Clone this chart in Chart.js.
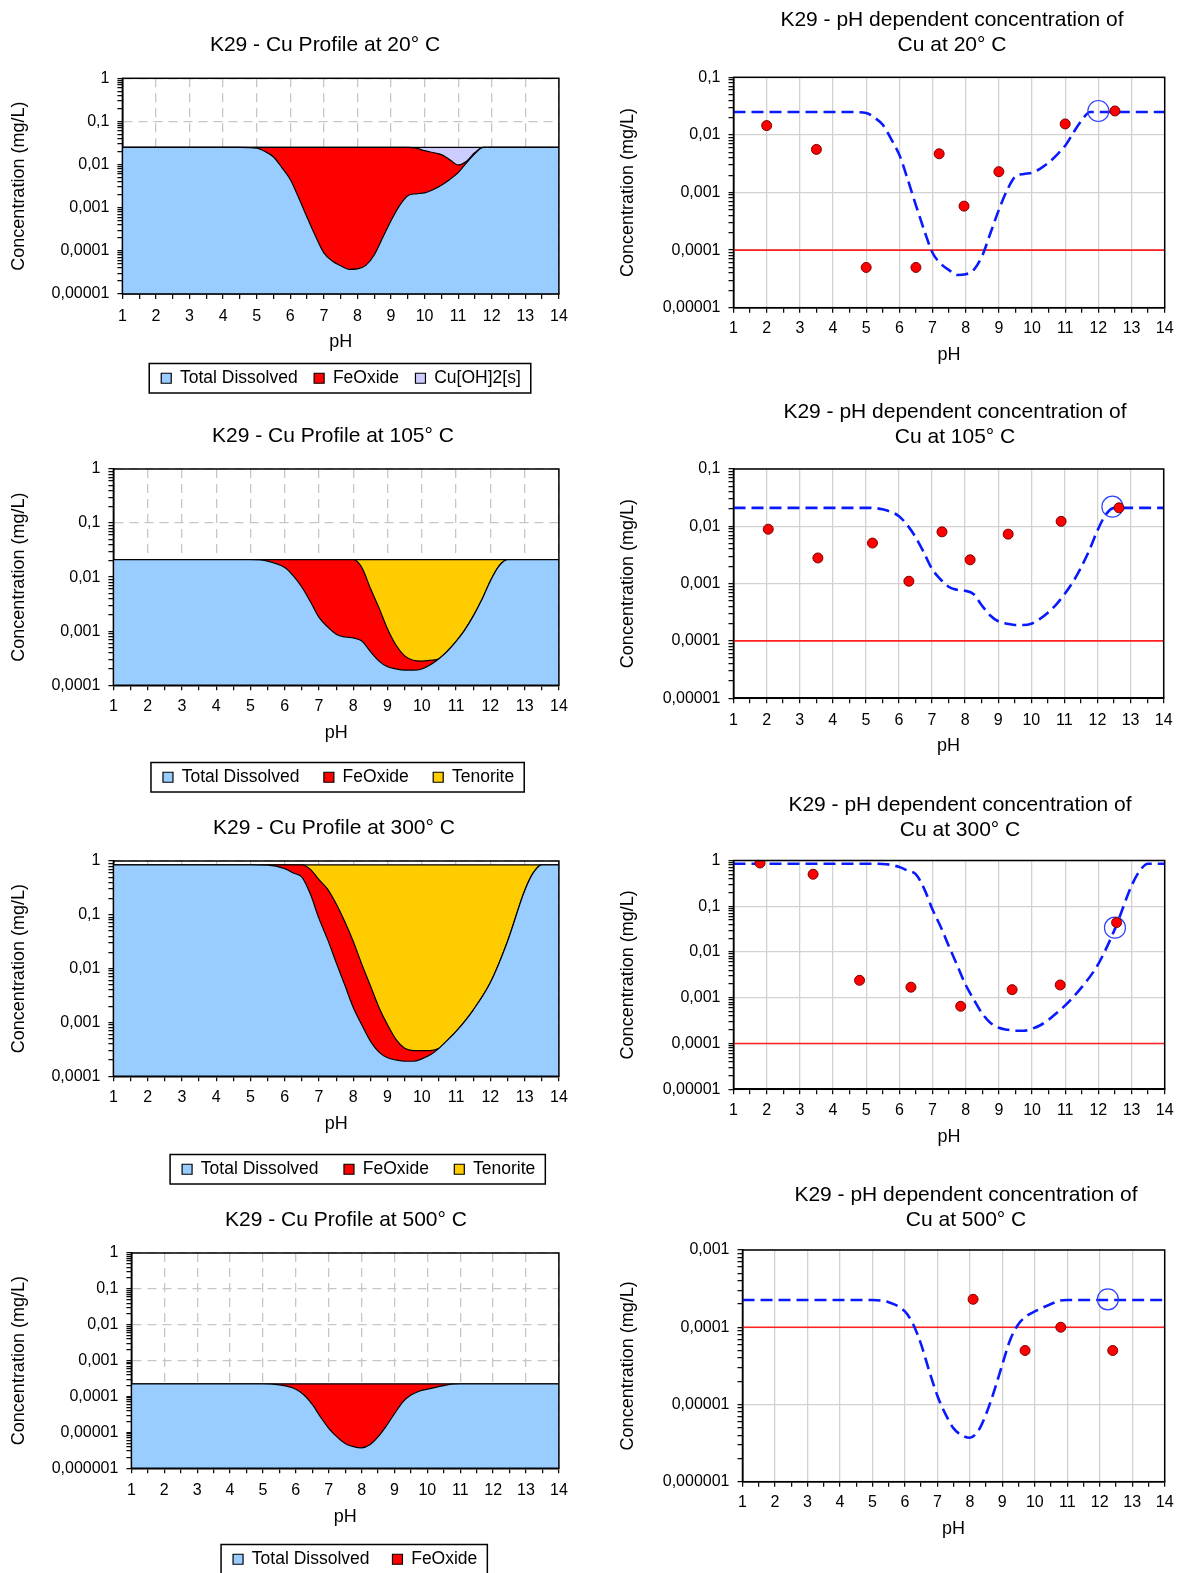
<!DOCTYPE html>
<html>
<head>
<meta charset="utf-8">
<title>K29 - Cu profiles</title>
<script src="https://cdn.jsdelivr.net/npm/chart.js@4.4.1/dist/chart.umd.min.js"></script>
<style>
  html, body { margin: 0; padding: 0; background: #fff; }
  body { position: relative; width: 1180px; height: 1573px; overflow: hidden; }
  canvas { position: absolute; }
</style>
</head>
<body>
<canvas id="p20"></canvas>
<canvas id="p105"></canvas>
<canvas id="p300"></canvas>
<canvas id="p500"></canvas>
<canvas id="c20"></canvas>
<canvas id="c105"></canvas>
<canvas id="c300"></canvas>
<canvas id="c500"></canvas>
<script>
// ---- data ----
const phTicks = [1, 1.5, 2, 2.5, 3, 3.5, 4, 4.5, 5, 5.5, 6, 6.5, 7, 7.5, 8, 8.5, 9, 9.5, 10, 10.5, 11, 11.5, 12, 12.5, 13, 13.5, 14];
const limit = 0.0001;

// 20 C
const ph20 = [1, 2, 3, 4, 4.5, 5, 5.25, 5.5, 5.75, 6, 6.25, 6.5, 6.75, 7, 7.25, 7.5, 7.75, 8, 8.25, 8.5, 8.75, 9, 9.25, 9.5, 9.75, 10, 10.25, 10.5, 10.75, 11, 11.25, 11.5, 11.75, 12, 13, 14];
const dissolved20 = [0.025, 0.025, 0.025, 0.025, 0.025, 0.024, 0.02, 0.015, 0.0085, 0.0045, 0.0017, 0.0006, 0.00022, 0.00009, 0.000058, 0.000045, 0.000037, 0.000038, 0.000046, 0.00008, 0.0002, 0.0005, 0.0011, 0.0019, 0.0021, 0.0022, 0.0026, 0.0033, 0.0045, 0.0065, 0.011, 0.018, 0.025, 0.025, 0.025, 0.025];
const feOxide20 = [0.025, 0.025, 0.025, 0.025, 0.025, 0.025, 0.025, 0.025, 0.025, 0.025, 0.025, 0.025, 0.025, 0.025, 0.025, 0.025, 0.025, 0.025, 0.025, 0.025, 0.025, 0.025, 0.025, 0.025, 0.024, 0.021, 0.019, 0.017, 0.013, 0.0098, 0.012, 0.019, 0.025, 0.025, 0.025, 0.025];
const total20 = 0.025;
const measPh20 = [2, 3.5, 5, 6.5, 7.2, 7.95, 9, 11, 12.5];
const measC20 = [0.0145, 0.0056, 0.00005, 0.00005, 0.0047, 0.00058, 0.0023, 0.0155, 0.026];
const mark20 = [12, 0.026];

// 105 C
const ph105 = [1, 2, 3, 4, 5, 5.5, 6, 6.25, 6.5, 6.75, 7, 7.25, 7.5, 7.75, 8, 8.25, 8.5, 8.75, 9, 9.25, 9.5, 9.75, 10, 10.25, 10.5, 10.75, 11, 11.25, 11.5, 11.75, 12, 12.25, 12.5, 13, 14];
const dissolved105 = [0.021, 0.021, 0.021, 0.021, 0.021, 0.0198, 0.015, 0.0105, 0.0065, 0.0035, 0.0018, 0.0012, 0.00088, 0.00078, 0.00075, 0.00066, 0.00042, 0.00028, 0.00022, 0.0002, 0.00019, 0.00019, 0.0002, 0.00024, 0.00031, 0.00043, 0.00065, 0.00105, 0.0019, 0.0038, 0.0085, 0.016, 0.021, 0.021, 0.021];
const feOxide105 = [0.021, 0.021, 0.021, 0.021, 0.021, 0.021, 0.021, 0.021, 0.021, 0.021, 0.021, 0.021, 0.021, 0.021, 0.021, 0.015, 0.0062, 0.0027, 0.0011, 0.00055, 0.00035, 0.00029, 0.00028, 0.00029, 0.00031, 0.00043, 0.00065, 0.00105, 0.0019, 0.0038, 0.0085, 0.016, 0.021, 0.021, 0.021];
const total105 = 0.021;
const measPh105 = [2.05, 3.55, 5.2, 6.3, 7.3, 8.15, 9.3, 10.9, 12.65];
const measC105 = [0.0089, 0.0028, 0.0051, 0.0011, 0.008, 0.0026, 0.0073, 0.0122, 0.021];
const mark105 = [12.45, 0.022];

// 300 C
const ph300 = [1, 2, 3, 4, 5, 5.5, 6, 6.25, 6.5, 6.75, 7, 7.25, 7.5, 7.75, 8, 8.25, 8.5, 8.75, 9, 9.25, 9.5, 9.75, 10, 10.25, 10.5, 10.75, 11, 11.5, 12, 12.5, 13, 13.25, 13.5, 14];
const dissolved300 = [0.85, 0.85, 0.85, 0.85, 0.85, 0.84, 0.72, 0.6, 0.5, 0.24, 0.085, 0.035, 0.013, 0.005, 0.0019, 0.0009, 0.00045, 0.00028, 0.00022, 0.0002, 0.00019, 0.00019, 0.00021, 0.00025, 0.00033, 0.00047, 0.00068, 0.0017, 0.0055, 0.032, 0.28, 0.6, 0.85, 0.85];
const feOxide300 = [0.85, 0.85, 0.85, 0.85, 0.85, 0.85, 0.85, 0.85, 0.85, 0.7, 0.45, 0.3, 0.16, 0.075, 0.032, 0.012, 0.0048, 0.0019, 0.0009, 0.00048, 0.00033, 0.0003, 0.0003, 0.0003, 0.00033, 0.00047, 0.00068, 0.0017, 0.0055, 0.032, 0.28, 0.6, 0.85, 0.85];
const total300 = 0.85;
const measPh300 = [1.8, 3.4, 4.8, 6.35, 7.85, 9.4, 10.85, 12.55];
const measC300 = [0.88, 0.5, 0.0024, 0.0017, 0.00065, 0.0015, 0.0019, 0.044];
const mark300 = [12.5, 0.034];

// 500 C
const ph500 = [1, 2, 3, 4, 5, 5.5, 6, 6.25, 6.5, 6.75, 7, 7.25, 7.5, 7.75, 8, 8.25, 8.5, 8.75, 9, 9.25, 9.5, 9.75, 10, 10.25, 10.5, 10.75, 11, 12, 13, 14];
const dissolved500 = [0.000225, 0.000225, 0.000225, 0.000225, 0.000225, 0.00021, 0.00016, 0.00011, 0.00006, 0.000027, 0.000013, 0.0000075, 0.0000049, 0.000004, 0.0000037, 0.0000045, 0.0000075, 0.000015, 0.000033, 0.00007, 0.00011, 0.00014, 0.00016, 0.00018, 0.0002, 0.00022, 0.000225, 0.000225, 0.000225, 0.000225];
const total500 = 0.000225;
const measPh500 = [8.1, 9.7, 10.8, 12.4];
const measC500 = [0.00023, 0.00005, 0.0001, 0.00005];
const mark500 = [12.25, 0.00023];

// ---- page geometry (absolute px in the 1180 x 1573 page) ----
const GEO = {
  p20:  { x0: 0, y0: 0,    w: 590, L: 122.4, R: 558.9, T: 78.3, B: 293.7, titleY: 45,    titleX: 325, xlY: 316,    phY: 342,  legY: 378,    legX: 341,   yTitleX: 19 },
  p105: { x0: 0, y0: 398,  w: 590, L: 113.4, R: 558.9, T: 469,  B: 685,   titleY: 436.5, titleX: 333, xlY: 706.5,  phY: 733,  legY: 777,    legX: 338.6, yTitleX: 19 },
  p300: { x0: 0, y0: 796,  w: 590, L: 113.4, R: 558.9, T: 861,  B: 1076,  titleY: 828.5, titleX: 334, xlY: 1097.5, phY: 1124, legY: 1169,   legX: 358.7, yTitleX: 19 },
  p500: { x0: 0, y0: 1188, w: 590, L: 131.4, R: 558.9, T: 1253, B: 1467.5,titleY: 1220,  titleX: 346, xlY: 1489.5, phY: 1516, legY: 1558.5, legX: 355.2, yTitleX: 19 },
  c20:  { x0: 590, y0: 0,    w: 590, L: 733.5, R: 1167, T: 77.3,  B: 307.5,  titleY: 32.5,   titleX: 952, xlY: 328.5,  phY: 355,  yTitleX: 628 },
  c105: { x0: 590, y0: 380,  w: 590, L: 733.5, R: 1167, T: 469,   B: 698,    titleY: 424.5,  titleX: 955, xlY: 720,    phY: 746,  yTitleX: 628 },
  c300: { x0: 590, y0: 770,  w: 590, L: 733.5, R: 1167, T: 860.5, B: 1089,   titleY: 817.5,  titleX: 960, xlY: 1110,   phY: 1137, yTitleX: 628 },
  c500: { x0: 590, y0: 1160, w: 590, L: 742.5, R: 1167, T: 1250,  B: 1481.5, titleY: 1208,   titleX: 966, xlY: 1502.5, phY: 1529, yTitleX: 628 }
};

Chart.defaults.font.family = "'Liberation Sans', Arial, sans-serif";
Chart.defaults.color = '#000';

const TICK_FONT = { size: 16 };
const AXIS_FONT = { size: 18 };
const TITLE_FONT = { size: 21, weight: 'normal' };
const LEGEND_FONT = { size: 17.5 };

function isDecade(v) {
  const l = Math.log10(v);
  return Math.abs(l - Math.round(l)) < 1e-6;
}
function decimal(v) {
  const e = Math.round(Math.log10(v));
  return e >= 0 ? String(Math.pow(10, e)) : Math.pow(10, e).toFixed(-e).replace('.', ',');
}
function logTicks(min, max) {
  const out = [];
  for (let v = min; v < max * 0.999; v *= 10) {
    for (let m = 1; m <= 9; m++) out.push({ value: m * v });
  }
  out.push({ value: max });
  return out;
}
function toPts(xs, ys) { return xs.map((x, i) => ({ x: x, y: ys[i] })); }
function level(xs, y) { return xs.map(x => ({ x: x, y: y })); }

// frame around plot, legend box, and horizontal placement of title/legend
const framePlugin = {
  id: 'frame',
  afterUpdate(chart, args, o) {
    const t = chart.titleBlock;
    if (t && o.titleX != null) {
      const dx = o.titleX - (t.left + t.right) / 2;
      t.left += dx; t.right += dx;
    }
    const lg = chart.legend;
    if (lg && lg.options.display && o.legendX != null) {
      const dx = o.legendX - (lg.left + lg.right) / 2;
      lg.left += dx; lg.right += dx;
      lg.legendHitBoxes.forEach(h => { h.left += dx; });
    }
  },
  afterDatasetsDraw(chart) {
    const a = chart.chartArea, ctx = chart.ctx;
    ctx.save();
    ctx.strokeStyle = '#000';
    ctx.lineWidth = 1.5;
    ctx.strokeRect(a.left, a.top, a.right - a.left, a.bottom - a.top);
    ctx.restore();
  },
  afterDraw(chart) {
    const lg = chart.legend;
    if (!lg || !lg.options.display) return;
    const hb = lg.legendHitBoxes;
    const x1 = Math.min(...hb.map(h => h.left)) - 12;
    const x2 = Math.max(...hb.map(h => h.left + h.width)) + 10;
    const y1 = hb[0].top - 6, y2 = hb[0].top + hb[0].height + 6;
    const ctx = chart.ctx;
    ctx.save();
    ctx.strokeStyle = '#000';
    ctx.lineWidth = 1.5;
    ctx.strokeRect(x1, y1, x2 - x1, y2 - y1);
    ctx.restore();
  }
};

function build(id, opts) {
  const g = GEO[id];
  const lines = Array.isArray(opts.title) ? opts.title.length : 1;
  const th = 25.2 * lines;
  const xH = g.phY + 10.8 - g.B;
  let h = g.B + xH - g.y0;
  let legPad = 0;
  if (opts.legend) {
    legPad = g.legY - (g.B + xH) - LEGEND_FONT.size / 2;
    h += LEGEND_FONT.size + legPad + 10;
  }
  const canvas = document.getElementById(id);
  canvas.width = g.w;
  canvas.height = Math.ceil(h);
  canvas.style.left = g.x0 + 'px';
  canvas.style.top = g.y0 + 'px';

  const gridCol = opts.dashed ? '#c6c6c6' : '#d2d2d2';
  const dash = opts.dashed ? [9, 6] : [];
  return new Chart(canvas, {
    type: 'line',
    data: { datasets: opts.datasets },
    plugins: [framePlugin],
    options: {
      responsive: false,
      animation: false,
      events: [],
      layout: { autoPadding: false, padding: { left: 0, top: 0, bottom: 0, right: g.x0 + g.w - g.R } },
      scales: {
        x: {
          type: 'linear', min: 1, max: 14,
          afterFit: s => { s.height = xH; },
          afterBuildTicks: s => { s.ticks = phTicks.map(v => ({ value: v })); },
          ticks: {
            autoSkip: false, maxRotation: 0, font: TICK_FONT, color: '#000',
            padding: g.xlY - g.B - 5 - 9.6,
            callback: v => Number.isInteger(v) ? String(v) : ''
          },
          grid: {
            color: c => (c.tick && Number.isInteger(c.tick.value)) ? gridCol : 'rgba(0,0,0,0)',
            lineWidth: 1.3, tickLength: 5, tickColor: '#000', tickWidth: 1.2
          },
          border: { color: '#000', width: 1.5, dash: dash },
          title: { display: true, text: 'pH', font: AXIS_FONT, color: '#000', padding: 0 }
        },
        y: {
          type: 'logarithmic', min: opts.yMin, max: opts.yMax,
          afterFit: s => { s.width = g.L - g.x0; },
          afterBuildTicks: s => { s.ticks = logTicks(opts.yMin, opts.yMax); },
          ticks: {
            autoSkip: false, font: TICK_FONT, color: '#000', padding: 8,
            callback: v => isDecade(v) ? decimal(v) : ''
          },
          grid: {
            color: c => (c.tick && isDecade(c.tick.value)) ? gridCol : 'rgba(0,0,0,0)',
            lineWidth: 1.3, tickLength: 5, tickColor: '#000', tickWidth: 1.2
          },
          border: { color: '#000', width: 1.5, dash: dash },
          title: {
            display: true, text: 'Concentration (mg/L)', font: AXIS_FONT, color: '#000',
            padding: { top: g.yTitleX - g.x0 - 10.8, bottom: 0 }
          }
        }
      },
      plugins: {
        title: {
          display: true, text: opts.title, font: TITLE_FONT, color: '#000',
          padding: { top: g.titleY - g.y0 - th / 2, bottom: g.T - g.titleY - th / 2 }
        },
        legend: {
          display: !!opts.legend, position: 'bottom',
          labels: { boxWidth: 10, boxHeight: 10, padding: legPad, font: LEGEND_FONT, color: '#000' }
        },
        tooltip: { enabled: false },
        frame: { titleX: g.titleX - g.x0, legendX: opts.legend ? g.legX - g.x0 : null }
      }
    }
  });
}

function area(label, data, colour, fill) {
  return {
    label: label, data: data, backgroundColor: colour, borderColor: '#000', borderWidth: 1.2,
    fill: fill, pointRadius: 0, cubicInterpolationMode: 'monotone'
  };
}

function phSets(ph, curve, mPh, mC, mark) {
  return [
    { label: 'Measured', data: toPts(mPh, mC), showLine: false, pointRadius: 5,
      pointBackgroundColor: '#ff0000', pointBorderColor: '#7a0000', pointBorderWidth: 1 },
    { label: 'Selected', data: [{ x: mark[0], y: mark[1] }], showLine: false, pointRadius: 10.5,
      pointBackgroundColor: 'rgba(0,0,0,0)', pointBorderColor: '#3040ff', pointBorderWidth: 1.2 },
    { label: 'Total Dissolved', data: toPts(ph, curve), borderColor: '#0a1aff', borderWidth: 2.6,
      borderDash: [12, 6], pointRadius: 0, fill: false, cubicInterpolationMode: 'monotone' },
    { label: 'Limit', data: [{ x: 1, y: limit }, { x: 14, y: limit }], borderColor: '#ff2020',
      borderWidth: 1.6, pointRadius: 0, fill: false }
  ];
}

// ---- left column: profiles ----
build('p20', {
  title: 'K29 - Cu Profile at 20° C', yMin: 1e-5, yMax: 1, dashed: true, legend: true,
  datasets: [
    area('Total Dissolved', toPts(ph20, dissolved20), '#99ccff', 'start'),
    area('FeOxide', toPts(ph20, feOxide20), '#ff0000', '-1'),
    area('Cu[OH]2[s]', level(ph20, total20), '#ccccff', '-1')
  ]
});
build('p105', {
  title: 'K29 - Cu Profile at 105° C', yMin: 1e-4, yMax: 1, dashed: true, legend: true,
  datasets: [
    area('Total Dissolved', toPts(ph105, dissolved105), '#99ccff', 'start'),
    area('FeOxide', toPts(ph105, feOxide105), '#ff0000', '-1'),
    area('Tenorite', level(ph105, total105), '#ffcc00', '-1')
  ]
});
build('p300', {
  title: 'K29 - Cu Profile at 300° C', yMin: 1e-4, yMax: 1, dashed: true, legend: true,
  datasets: [
    area('Total Dissolved', toPts(ph300, dissolved300), '#99ccff', 'start'),
    area('FeOxide', toPts(ph300, feOxide300), '#ff0000', '-1'),
    area('Tenorite', level(ph300, total300), '#ffcc00', '-1')
  ]
});
build('p500', {
  title: 'K29 - Cu Profile at 500° C', yMin: 1e-6, yMax: 1, dashed: true, legend: true,
  datasets: [
    area('Total Dissolved', toPts(ph500, dissolved500), '#99ccff', 'start'),
    area('FeOxide', level(ph500, total500), '#ff0000', '-1')
  ]
});

// ---- right column: pH dependent concentration ----
build('c20', {
  title: ['K29 - pH dependent concentration of', 'Cu at 20° C'], yMin: 1e-5, yMax: 0.1,
  datasets: phSets(ph20, dissolved20, measPh20, measC20, mark20)
});
build('c105', {
  title: ['K29 - pH dependent concentration of', 'Cu at 105° C'], yMin: 1e-5, yMax: 0.1,
  datasets: phSets(ph105, dissolved105, measPh105, measC105, mark105)
});
build('c300', {
  title: ['K29 - pH dependent concentration of', 'Cu at 300° C'], yMin: 1e-5, yMax: 1,
  datasets: phSets(ph300, dissolved300, measPh300, measC300, mark300)
});
build('c500', {
  title: ['K29 - pH dependent concentration of', 'Cu at 500° C'], yMin: 1e-6, yMax: 1e-3,
  datasets: phSets(ph500, dissolved500, measPh500, measC500, mark500)
});
</script>
</body>
</html>
